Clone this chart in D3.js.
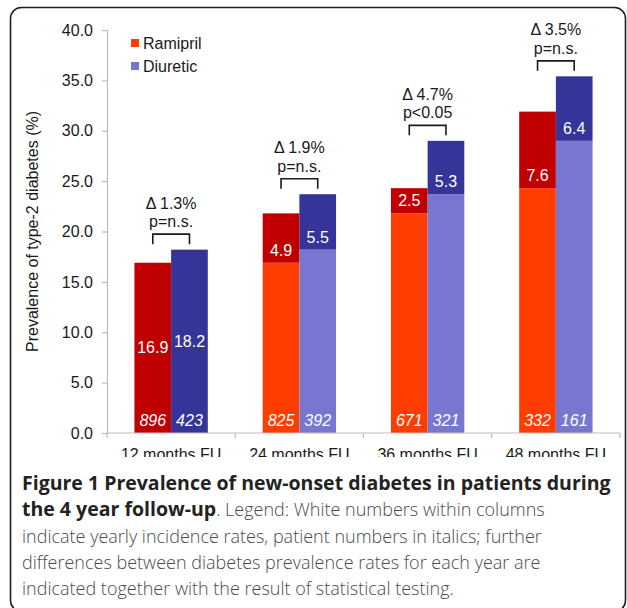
<!DOCTYPE html>
<html>
<head>
<meta charset="utf-8">
<script src="https://cdn.jsdelivr.net/npm/d3@7/dist/d3.min.js"></script>
<style>
  html, body { margin: 0; padding: 0; background: #fff; }
  svg { display: block; }
</style>
</head>
<body>
<svg id="chart" width="627" height="608"></svg>
<script>
// ---- data ----
const categories = ["12 months FU", "24 months FU", "36 months FU", "48 months FU"];
const series = ["Ramipril", "Diuretic"];
const ramiprilIncrement = [16.9, 4.9, 2.5, 7.6];
const diureticIncrement = [18.2, 5.5, 5.3, 6.4];
const ramiprilPatients = [896, 825, 671, 332];
const diureticPatients = [423, 392, 321, 161];
const deltaLabels = ["\u0394 1.3%", "\u0394 1.9%", "\u0394 4.7%", "\u0394 3.5%"];
const pLabels = ["p=n.s.", "p=n.s.", "p<0.05", "p=n.s."];
const yTicks = [0, 5, 10, 15, 20, 25, 30, 35, 40];
const yTitle = "Prevalence of type-2 diabetes (%)";

// ---- styles ----
const colors = {
  Ramipril: { base: "#FF3D00", inc: "#C00000" },
  Diuretic: { base: "#7777CF", inc: "#343499" }
};
const font = "Liberation Sans, Arial, sans-serif";

const svg = d3.select("#chart");

// frame
svg.append("rect")
  .attr("x", 10.5).attr("y", 7.5)
  .attr("width", 615).attr("height", 604)
  .attr("rx", 11).attr("ry", 11)
  .attr("fill", "none").attr("stroke", "#1e1e1e").attr("stroke-width", 1.6);

svg.append("clipPath").attr("id", "clipChart")
  .append("rect").attr("x", 0).attr("y", 0).attr("width", 627).attr("height", 457);

const g = svg.append("g").attr("clip-path", "url(#clipChart)");

const x = d3.scaleBand().domain(categories).range([107, 620]).paddingInner(0).paddingOuter(0);
const y = d3.scaleLinear().domain([0, 40]).range([433, 30]);
const barW = x.bandwidth() * 0.286;

// build stacked data
function build(incs) {
  let acc = 0;
  return incs.map(v => { const start = acc; acc += v; return { start, end: acc, v }; });
}
const rData = build(ramiprilIncrement);
const dData = build(diureticIncrement);

// y axis
const yAxis = d3.axisLeft(y).tickValues(yTicks).tickFormat(d3.format(".1f")).tickSize(5).tickPadding(9);
const ya = g.append("g").attr("transform", "translate(107,0)").call(yAxis);
ya.select(".domain").attr("stroke", "#bdbdbd").attr("stroke-width", 1.2);
ya.selectAll(".tick line").attr("stroke", "#bdbdbd").attr("stroke-width", 1.2);
ya.selectAll(".tick text").attr("font-family", font).attr("font-size", 16).attr("fill", "#1a1a1a");

// y title
g.append("text")
  .attr("transform", "translate(38," + (y(0) + y(40)) / 2 + ") rotate(-90)")
  .attr("text-anchor", "middle")
  .attr("font-family", font).attr("font-size", 16).attr("fill", "#1a1a1a")
  .text(yTitle);

// bars
categories.forEach((c, i) => {
  const x0 = x(c) + x.bandwidth() / 2 - barW;
  [[rData[i], "Ramipril", x0], [dData[i], "Diuretic", x0 + barW]].forEach(([d, s, bx]) => {
    if (d.start > 0) {
      g.append("rect")
        .attr("x", bx).attr("width", barW)
        .attr("y", y(d.start)).attr("height", y(0) - y(d.start))
        .attr("fill", colors[s].base);
    }
    g.append("rect")
      .attr("x", bx).attr("width", barW)
      .attr("y", y(d.end)).attr("height", y(d.start) - y(d.end))
      .attr("fill", colors[s].inc);
    // increment label
    const ly = i === 0 ? (y(d.start) + y(d.end)) / 2 + 5.5 : y(d.start) - 7;
    g.append("text")
      .attr("x", bx + barW / 2).attr("y", ly)
      .attr("text-anchor", "middle")
      .attr("font-family", font).attr("font-size", 16).attr("fill", "#fff")
      .text(d.v.toFixed(1));
  });
  // patient numbers
  [[ramiprilPatients[i], x0], [diureticPatients[i], x0 + barW]].forEach(([n, bx]) => {
    g.append("text")
      .attr("x", bx + barW / 2).attr("y", y(0) - 7)
      .attr("text-anchor", "middle")
      .attr("font-family", font).attr("font-size", 16).attr("font-style", "italic").attr("fill", "#fff")
      .text(n);
  });
  // bracket
  const cx1 = x0 + barW / 2, cx2 = x0 + barW * 1.5;
  const top = y(Math.max(rData[i].end, dData[i].end)) - 15.5;
  g.append("path")
    .attr("d", `M${cx1},${top + 10}V${top}H${cx2}V${top + 10}`)
    .attr("fill", "none").attr("stroke", "#1a1a1a").attr("stroke-width", 1.6);
  g.append("text")
    .attr("x", (cx1 + cx2) / 2).attr("y", top - 25.5)
    .attr("text-anchor", "middle")
    .attr("font-family", font).attr("font-size", 16).attr("fill", "#1a1a1a")
    .text(deltaLabels[i]);
  g.append("text")
    .attr("x", (cx1 + cx2) / 2).attr("y", top - 7)
    .attr("text-anchor", "middle")
    .attr("font-family", font).attr("font-size", 16).attr("fill", "#1a1a1a")
    .text(pLabels[i]);
});

// x axis
g.append("line")
  .attr("x1", 107).attr("x2", 620).attr("y1", y(0)).attr("y2", y(0))
  .attr("stroke", "#bdbdbd").attr("stroke-width", 1.2);
const bounds = categories.map(c => x(c)).concat([x(categories[categories.length - 1]) + x.bandwidth()]);
bounds.forEach(b => {
  g.append("line").attr("x1", b).attr("x2", b).attr("y1", y(0)).attr("y2", y(0) + 5)
    .attr("stroke", "#bdbdbd").attr("stroke-width", 1.2);
});
categories.forEach(c => {
  g.append("text")
    .attr("x", x(c) + x.bandwidth() / 2).attr("y", 460)
    .attr("text-anchor", "middle")
    .attr("font-family", font).attr("font-size", 16).attr("fill", "#1a1a1a")
    .text(c);
});

// legend
series.forEach((s, i) => {
  g.append("rect").attr("x", 131).attr("y", 39 + i * 23).attr("width", 8).attr("height", 8)
    .attr("fill", colors[s].base);
  g.append("text").attr("x", 143).attr("y", 49 + i * 23)
    .attr("font-family", font).attr("font-size", 16).attr("fill", "#1a1a1a")
    .text(s);
});

// caption
const capFont = "'Open Sans', 'Noto Sans', sans-serif";
const cap = svg.append("g").attr("font-family", capFont).attr("fill", "#2b2b2b");
const lines = [
  [["Figure 1 Prevalence of new-onset diabetes in patients during", true]],
  [["the 4 year follow-up", true], [". Legend: White numbers within columns", false]],
  [["indicate yearly incidence rates, patient numbers in italics; further", false]],
  [["differences between diabetes prevalence rates for each year are", false]],
  [["indicated together with the result of statistical testing.", false]]
];
lines.forEach((ln, i) => {
  const t = cap.append("text").attr("x", 22).attr("y", 490 + i * 26.3);
  ln.forEach(([s, b]) => {
    t.append("tspan")
      .attr("font-weight", b ? 700 : 300)
      .attr("font-size", b ? 19.5 : 18)
      .attr("fill", b ? "#222" : "#4a4a4a")
      .text(s);
  });
});
</script>
</body>
</html>
